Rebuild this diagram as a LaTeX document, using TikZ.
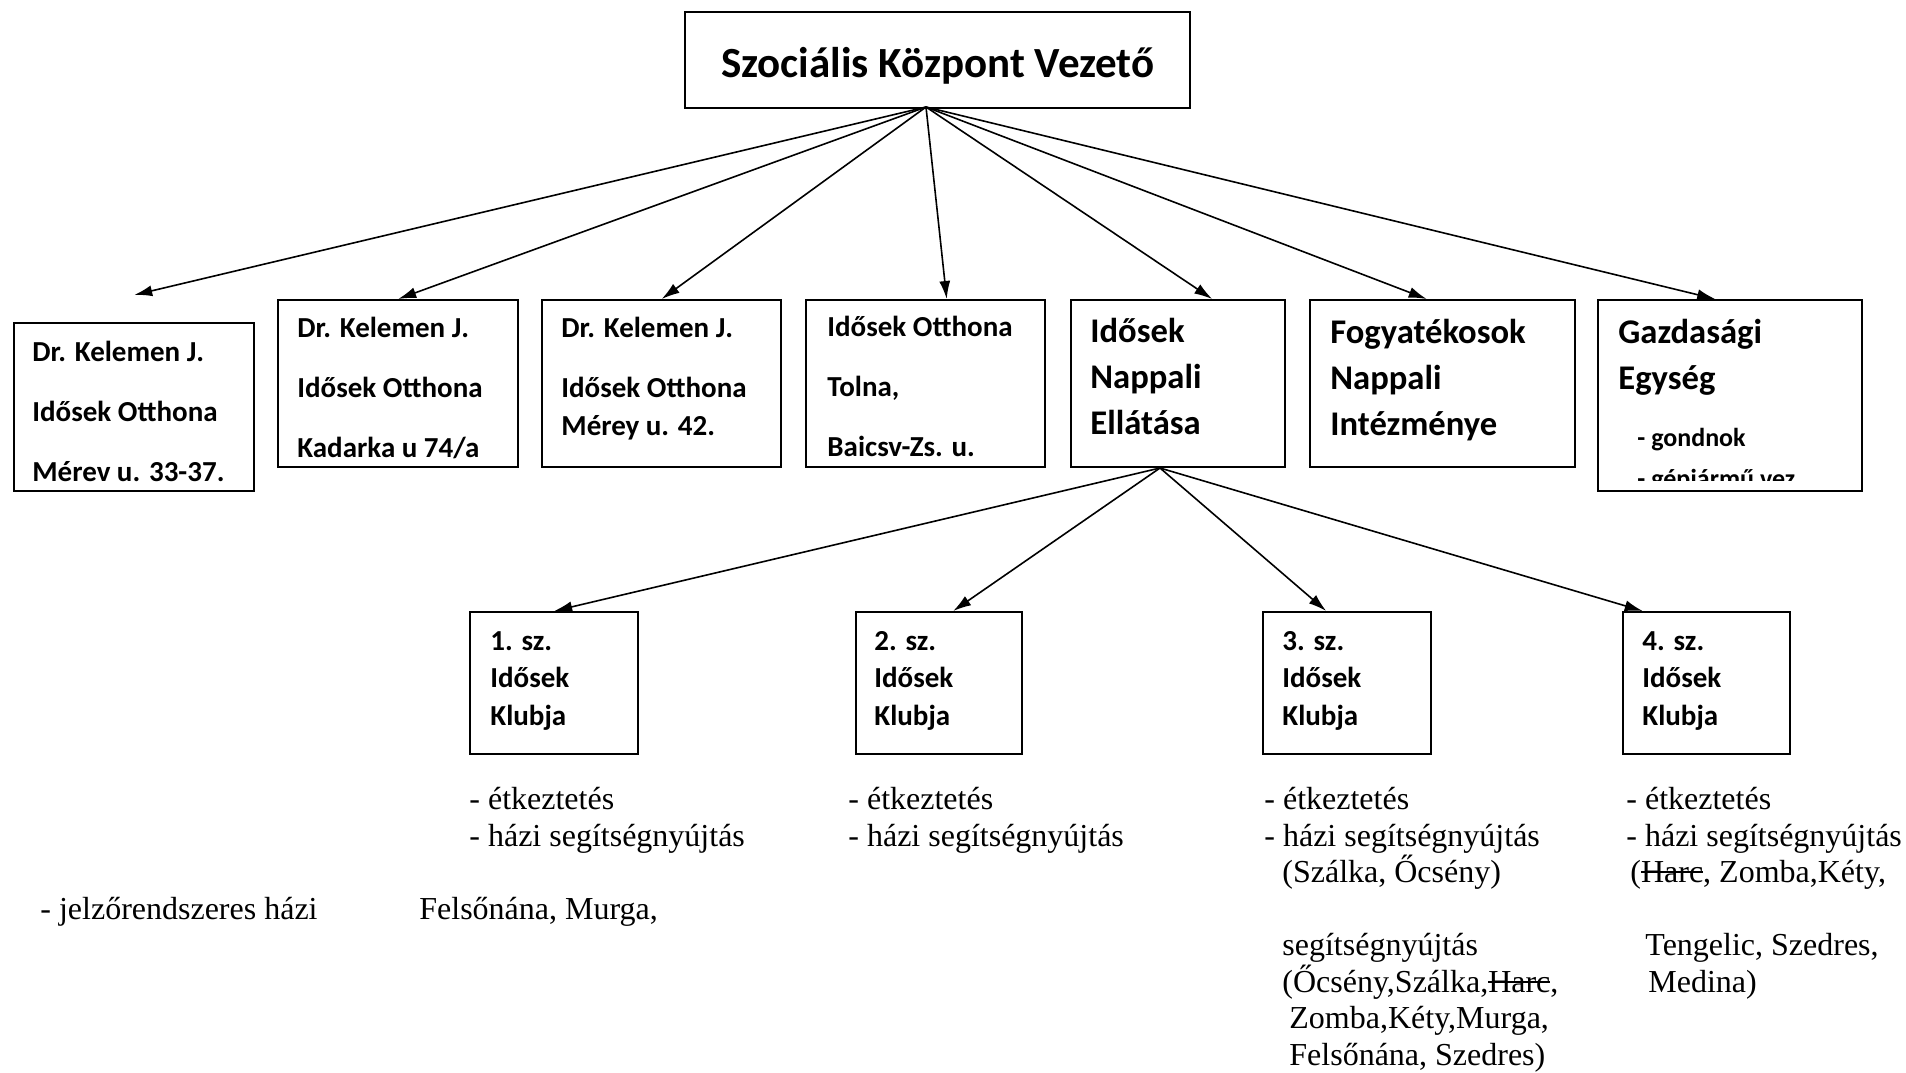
\documentclass[tikz,border=0pt]{standalone}
\usepackage{fontspec}
\setmainfont{Carlito}
\newfontfamily\tnr{Liberation Serif}
\usetikzlibrary{arrows.meta,calc}

\newsavebox{\athuzbox}
\newcommand{\athuz}[1]{\sbox{\athuzbox}{#1}\rlap{\rule[0.3em]{\wd\athuzbox}{0.05em}}\usebox{\athuzbox}}

\tikzset{
  doboz/.style={draw, line width=1.2pt, inner sep=0pt, anchor=north west},
  nyil/.style={line width=0.8pt, -{Latex[length=9pt,width=5.5pt]}},
  bfelirat/.style={anchor=north west, inner sep=0pt, align=left, font=\bfseries\fontsize{14.5}{30}\selectfont},
  nfelirat/.style={anchor=north west, inner sep=0pt, align=left, font=\bfseries\fontsize{17.3}{23}\selectfont},
  kfelirat/.style={anchor=north west, inner sep=0pt, align=left, font=\bfseries\fontsize{14.5}{18.75}\selectfont},
  lista/.style={anchor=north west, inner sep=0pt, align=left, font=\tnr\fontsize{16}{18.25}\selectfont},
}

\begin{document}
\begin{tikzpicture}[x=0.5pt,y=-0.5pt]
    \useasboundingbox (0,0) rectangle (1906,1072);

    % Vezető
    \node[doboz, minimum width=252.5pt, minimum height=48pt] (vezeto) at (684,11) {};
    \node[font=\bfseries\fontsize{21.5}{25}\selectfont, inner sep=0pt] (cim) at ($(vezeto.center)+(0,6)$) {Szociális Központ Vezető};

    % Első szint dobozai
    \node[doboz, minimum width=120pt, minimum height=84pt] (b1) at (13,322) {};
    \node[doboz, minimum width=120pt, minimum height=83.5pt] (b2) at (277,299) {};
    \node[doboz, minimum width=119.5pt, minimum height=83.5pt] (b3) at (541,299) {};
    \node[doboz, minimum width=119.5pt, minimum height=83.5pt] (b4) at (805,299) {};
    \node[doboz, minimum width=107pt, minimum height=83.5pt] (b5) at (1070,299) {};
    \node[doboz, minimum width=132.5pt, minimum height=83.5pt] (b6) at (1309,299) {};
    \node[doboz, minimum width=132pt, minimum height=95.5pt] (b7) at (1597,299) {};

    \node[bfelirat] (b1t) at (32,341) {Dr. Kelemen J.\\Idősek Otthona\\Mérev u. 33-37.};
    \node[bfelirat] (b2t) at (297,317) {Dr. Kelemen J.\\Idősek Otthona\\Kadarka u 74/a};
    \node[bfelirat] (b3t) at (561,317) {Dr. Kelemen J.\\Idősek Otthona\\[-11pt]Mérey u. 42.};
    \node[bfelirat] (b4t) at (827,316) {Idősek Otthona\\Tolna,\\Baicsv-Zs. u.};
    \node[nfelirat] (b5t) at (1090,318) {Idősek\\Nappali\\Ellátása};
    \node[nfelirat] (b6t) at (1330,319) {Fogyatékosok\\Nappali\\Intézménye};
    \node[nfelirat] (b7t) at (1618,319) {Gazdasági\\Egység};
    \begin{scope}
        \clip (1600,400) rectangle (1858,480);
        \node[anchor=north west, inner sep=0pt, align=left, font=\bfseries\fontsize{13}{20.5}\selectfont] (b7l) at (1637,428) {- gondnok\\- gépjármű vez.};
    \end{scope}

    % Nyilak a vezetőtől
    \coordinate (hub) at (926,107);
    \draw[nyil] (hub) -- ($(b1.north)+(0,-27)$);
    \draw[nyil] (hub) -- (b2.north);
    \draw[nyil] (hub) -- (b3.north);
    \draw[nyil] (hub) -- ($(b4.north)+(21,0)$);
    \draw[nyil] (hub) -- ($(b5.north)+(34,0)$);
    \draw[nyil] (hub) -- ($(b6.north)+(-16,0)$);
    \draw[nyil] (hub) -- ($(b7.north)+(-15,0)$);

    % Klubok
    \node[doboz, minimum width=84pt, minimum height=71pt] (c1) at (469,611) {};
    \node[doboz, minimum width=83pt, minimum height=71pt] (c2) at (855,611) {};
    \node[doboz, minimum width=84pt, minimum height=71pt] (c3) at (1262,611) {};
    \node[doboz, minimum width=83.5pt, minimum height=71pt] (c4) at (1622,611) {};

    \node[kfelirat] (c1t) at (490,631) {1. sz.\\Idősek\\Klubja};
    \node[kfelirat] (c2t) at (874,631) {2. sz.\\Idősek\\Klubja};
    \node[kfelirat] (c3t) at (1282,631) {3. sz.\\Idősek\\Klubja};
    \node[kfelirat] (c4t) at (1642,631) {4. sz.\\Idősek\\Klubja};

    % Nyilak a nappali ellátástól
    \coordinate (elag) at (1160,468);
    \draw[nyil] (elag) -- (c1.north);
    \draw[nyil] (elag) -- ($(c2.north)+(14,0)$);
    \draw[nyil] (elag) -- ($(c3.north)+(-21,0)$);
    \draw[nyil] (elag) -- ($(c4.north)+(-64,0)$);

    % Feladatok
    \node[lista] (f1) at (469,787) {- étkeztetés\\- házi segítségnyújtás};
    \node[lista] (f2) at (848,787) {- étkeztetés\\- házi segítségnyújtás};
    \node[lista] (f3) at (1264,787) {- étkeztetés\\- házi segítségnyújtás\\\hspace*{9pt}(Szálka, Őcsény)\\[18.25pt]\hspace*{9pt}segítségnyújtás\\\hspace*{9pt}(Őcsény,Szálka,\athuz{Harc},\\\hspace*{12.5pt}Zomba,Kéty,Murga,\\\hspace*{12.5pt}Felsőnána, Szedres)};
    \node[lista] (f4) at (1626,787) {- étkeztetés\\- házi segítségnyújtás\\\hspace*{2pt}(\athuz{Harc}, Zomba,Kéty,\\[18.25pt]\hspace*{9.5pt}Tengelic, Szedres,\\\hspace*{11pt}Medina)};
    \node[lista] (f5) at (40,897) {- jelzőrendszeres házi};
    \node[lista] (f6) at (419,897) {Felsőnána, Murga,};
\end{tikzpicture}
\end{document}
